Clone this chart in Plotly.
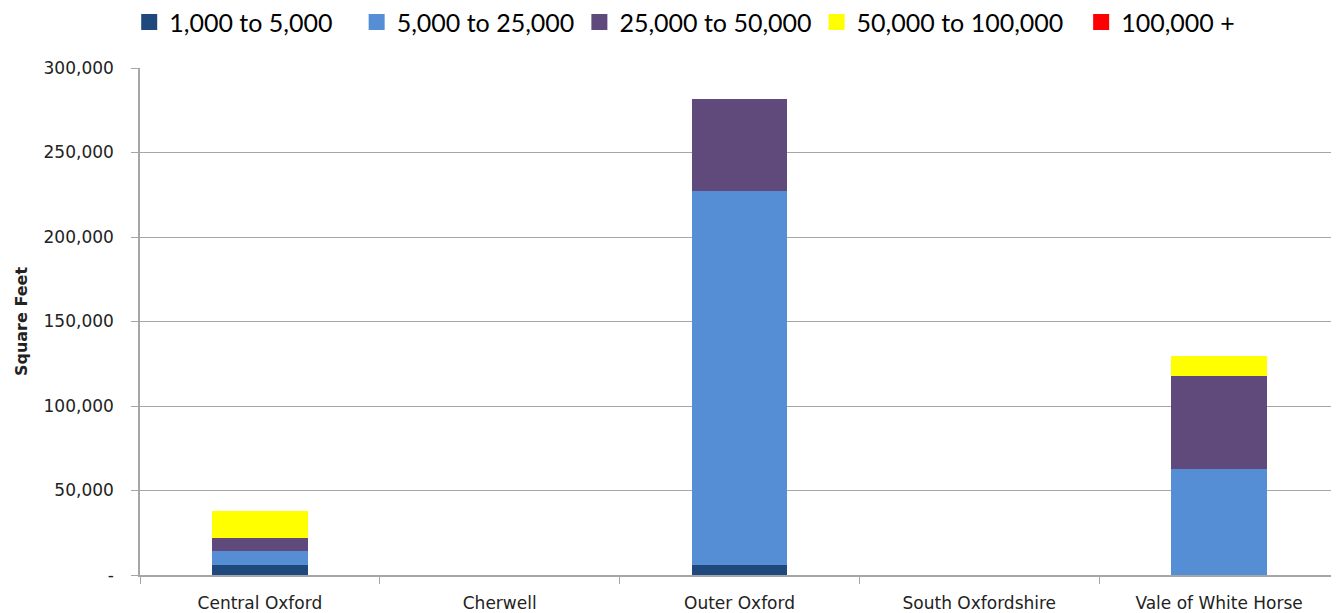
import plotly.graph_objects as go

areas = ['Central Oxford', 'Cherwell', 'Outer Oxford', 'South Oxfordshire', 'Vale of White Horse']
bands = ['1,000 to 5,000', '5,000 to 25,000', '25,000 to 50,000', '50,000 to 100,000', '100,000 +']
colors = ['#1F497D', '#558ED5', '#604A7B', '#FFFF00', '#FF0000']

band_1k_5k = [6000, 0, 6000, 0, 0]
band_5k_25k = [8500, 0, 221000, 0, 63000]
band_25k_50k = [7500, 0, 54500, 0, 55000]
band_50k_100k = [16000, 0, 0, 0, 11500]
band_100k_plus = [0, 0, 0, 0, 0]

y_ticks = [0, 50000, 100000, 150000, 200000, 250000, 300000]
y_ticktext = ['-', '50,000', '100,000', '150,000', '200,000', '250,000', '300,000']

series = [band_1k_5k, band_5k_25k, band_25k_50k, band_50k_100k, band_100k_plus]
# extra non-breaking spaces to get the uneven legend spacing of the original
pads = [3, 0, 0, 2, 0]

fig = go.Figure()
for name, vals, c, p in zip(bands, series, colors, pads):
    fig.add_trace(go.Bar(x=areas, y=vals, name=name, marker_color=c,
                         marker_line_width=0, showlegend=False, legendgroup=name))
    # legend-only entry so the key square can be bigger than plotly's bar icon
    fig.add_trace(go.Scatter(x=[None], y=[None], mode='markers', name=name + '\u00a0' * p,
                             marker=dict(symbol='square', size=16, color=c),
                             legendgroup=name))

grey = '#a6a6a6'
# page body has an 8px margin, so the margins below are shifted to compensate
fig.update_layout(
    barmode='stack',
    bargap=0.6,
    width=1339, height=613,
    margin=dict(l=132, r=8, t=60, b=46, autoexpand=False),
    plot_bgcolor='white', paper_bgcolor='white',
    font=dict(family='DejaVu Sans', size=17, color='#222222'),
    legend=dict(orientation='h', x=-0.009, y=1.09, xanchor='left', yanchor='middle',
                font=dict(family='Lato', size=25, color='black'),
                itemsizing='trace', tracegroupgap=0, itemclick=False),
    xaxis=dict(showline=True, linecolor=grey, linewidth=1.5,
               ticks='outside', tickson='boundaries', ticklen=7, tickcolor=grey,
               tickfont=dict(size=17), ticklabelstandoff=12),
    yaxis=dict(range=[0, 300000], tickvals=y_ticks, ticktext=y_ticktext,
               showline=True, linecolor=grey, linewidth=1.5,
               showgrid=True, gridcolor=grey, gridwidth=1.2,
               ticks='outside', ticklen=7, tickcolor=grey,
               ticklabelstandoff=14, zeroline=False,
               title=dict(text='<b>Square Feet</b>', font=dict(size=16), standoff=12)),
)

fig.write_html('out.html')
